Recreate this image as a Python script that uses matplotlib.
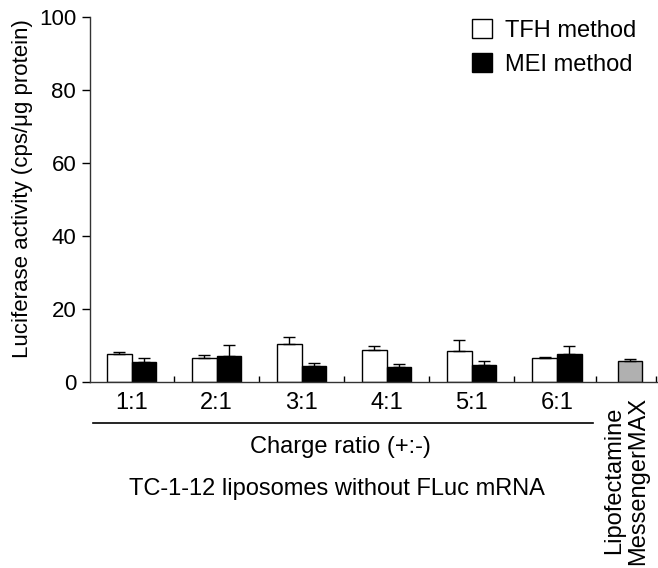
import matplotlib.pyplot as plt
import numpy as np

plt.rcParams["font.family"] = ["Liberation Sans", "DejaVu Sans"]

ratios = ["1:1", "2:1", "3:1", "4:1", "5:1", "6:1"]
tfh_mean = [7.6, 6.5, 10.5, 8.7, 8.5, 6.7]
tfh_err = [0.6, 1.0, 1.8, 1.1, 3.0, 0.2]
mei_mean = [5.5, 7.0, 4.5, 4.2, 4.7, 7.7]
mei_err = [1.2, 3.0, 0.7, 0.6, 1.0, 2.1]
lipo_mean = 5.7
lipo_err = 0.7

x = np.arange(len(ratios))
w = 0.29
lipo_x = 5.86

fig = plt.figure(figsize=(6.58, 5.68), dpi=100)
ax = fig.add_axes([0.1368, 0.3275, 0.862, 0.643])

ekw = dict(elinewidth=1, capsize=4, capthick=1, ecolor="black")
ax.bar(x - w / 2, tfh_mean, w, color="white", edgecolor="black", linewidth=1,
       yerr=[np.zeros(6), tfh_err], error_kw=ekw, label="TFH method")
ax.bar(x + w / 2, mei_mean, w, color="black", edgecolor="black", linewidth=1,
       yerr=[np.zeros(6), mei_err], error_kw=ekw, label="MEI method")
ax.bar([lipo_x], [lipo_mean], w, color="#b0b0b0", edgecolor="black", linewidth=1,
       yerr=[[0], [lipo_err]], error_kw=ekw)

ax.set_xlim(-0.49, 6.18)
ax.set_ylim(0, 100)
ax.set_yticks(range(0, 101, 20))
ax.tick_params(axis="y", labelsize=16, length=6, width=1, direction="out", pad=4)
ax.spines["top"].set_visible(False)
ax.spines["right"].set_visible(False)
for s in ("left", "bottom"):
    ax.spines[s].set_linewidth(1)
    ax.spines[s].set_color("#333333")

# small upward ticks between groups
ax.set_xticks([0.5, 1.5, 2.5, 3.5, 4.5, 5.46, 6.17])
ax.set_xticklabels([])
ax.tick_params(axis="x", direction="in", length=4, width=1)

ax.set_ylabel("Luciferase activity (cps/\u03bcg protein)", fontsize=16)
ax.yaxis.set_label_coords(-0.1, 0.53)

for xi, lab in zip(x, ratios):
    ax.text(xi, -5.8, lab, ha="center", va="center", fontsize=17, clip_on=False)
ax.text(lipo_x - 0.04, -4, "Lipofectamine\nMessengerMAX", rotation=90,
        ha="center", va="top", fontsize=17, clip_on=False, linespacing=1.12)

ax.plot([-0.46, 5.43], [-11.2, -11.2], color="black", lw=1.2, clip_on=False)
ax.text(2.45, -17.9, "Charge ratio (+:-)", ha="center", va="center",
        fontsize=17, clip_on=False)
ax.text(2.41, -29.3, "TC-1-12 liposomes without FLuc mRNA", ha="center",
        va="center", fontsize=17, clip_on=False)

ax.legend(loc="upper left", bbox_to_anchor=(472 / 658, 1 - 19 / 568),
          bbox_transform=fig.transFigure, frameon=False, fontsize=17,
          handlelength=0.85, handleheight=0.85, handletextpad=0.55,
          labelspacing=0.5, borderpad=0, borderaxespad=0)

fig.savefig("out.png", dpi=100)
